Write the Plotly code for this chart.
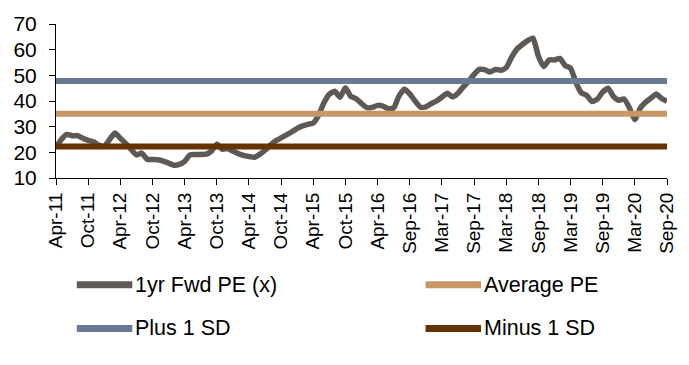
import plotly.graph_objects as go

# ---- data ----
tick_labels = ["Apr-11", "Oct-11", "Apr-12", "Oct-12", "Apr-13", "Oct-13", "Apr-14",
               "Oct-14", "Apr-15", "Oct-15", "Apr-16", "Sep-16", "Mar-17", "Sep-17",
               "Mar-18", "Sep-18", "Mar-19", "Sep-19", "Mar-20", "Sep-20"]

pe_fwd = [22, 25, 27, 26.5, 26.5, 25.5, 24.7, 24.1, 22.8, 22.3,
          25, 27.5, 25.5, 23.5, 21.2, 19, 19.7, 17.3, 17.2, 17.1,
          16.6, 15.8, 15, 15.3, 16.5, 19, 19.2, 19.2, 19.3, 20.5,
          23.2, 21.2, 21.5, 20.5, 19.5, 18.8, 18.4, 18.1, 19.2, 20.8,
          22.8, 24.5, 25.6, 26.8, 28, 29.3, 30.3, 30.9, 31.4, 34.5,
          39.3, 42.6, 43.8, 41.5, 45.2, 41.8, 40.9, 39, 37.4, 37.5,
          38.3, 38, 37, 37.3, 42, 44.6, 42.8, 40, 37.6, 37.7,
          39, 40, 41.5, 43, 41.6, 43, 45.5, 47.7, 50.4, 52.3,
          52.2, 51.3, 52.3, 52, 53, 57, 60.2, 62, 63.5, 64.5,
          57.5, 53.4, 56, 56, 56.6, 53.8, 52.8, 47.3, 43.2, 42.2,
          39.8, 40.7, 43.5, 45, 41.8, 40.3, 40.8, 37.3, 32.8, 37.2,
          39.5, 41.1, 42.7, 41, 39.9]

average_pe = 35.0
plus_1sd = 47.75
minus_1sd = 22.25

series_names = ["1yr Fwd PE (x)", "Average PE", "Plus 1 SD", "Minus 1 SD"]
colors = {"1yr Fwd PE (x)": "#5f5955", "Average PE": "#c99665",
          "Plus 1 SD": "#687a94", "Minus 1 SD": "#663300"}

x = list(range(len(pe_fwd)))
tick_step = 6
tickvals = x[::tick_step]

FONT = "Liberation Sans, Arial, sans-serif"

fig = go.Figure()
fig.add_trace(go.Scatter(x=x, y=pe_fwd, mode="lines", name=series_names[0],
                         line=dict(color=colors[series_names[0]], width=5.5, shape="spline", smoothing=0.5)))
for nm, val in [("Plus 1 SD", plus_1sd), ("Average PE", average_pe), ("Minus 1 SD", minus_1sd)]:
    fig.add_trace(go.Scatter(x=x, y=[val] * len(x), mode="lines", name=nm,
                             line=dict(color=colors[nm], width=6)))

# custom legend (2 columns x 2 rows)
L = 56.0
W = 616.7
def px(v):
    return (v - L) / W
T = 20.0
H = 158.3
def py(v):
    return (T + H - v) / H

legend_items = [("1yr Fwd PE (x)", 77, 288), ("Average PE", 429, 288),
                ("Plus 1 SD", 77, 333), ("Minus 1 SD", 429, 333)]
for nm, lx, ly in legend_items:
    fig.add_shape(type="line", xref="paper", yref="paper",
                  x0=px(lx), x1=px(lx + 56), y0=py(ly), y1=py(ly),
                  line=dict(color=colors[nm], width=7))
    fig.add_annotation(xref="paper", yref="paper", x=px(lx + 57), y=py(ly),
                       text=nm, showarrow=False, xanchor="left", yanchor="middle",
                       font=dict(family=FONT, size=21.5, color="#000000"))

fig.update_layout(
    width=689, height=365,
    margin=dict(l=56, r=16.3, t=20, b=186.7),
    paper_bgcolor="white", plot_bgcolor="white",
    showlegend=False,
    font=dict(family=FONT, size=21, color="#000000"),
)
fig.update_xaxes(range=[0, len(x) - 1], tickmode="array", tickvals=tickvals, ticktext=tick_labels,
                 tickangle=-90, showline=True, linecolor="black", linewidth=1,
                 ticks="outside", ticklen=6, tickcolor="black", showgrid=False, zeroline=False,
                 tickfont=dict(family=FONT, size=19))
fig.update_yaxes(range=[10, 70], dtick=10, tick0=10, showline=True, linecolor="black", linewidth=1,
                 ticks="outside", ticklen=6, tickcolor="black", showgrid=False, zeroline=False,
                 ticklabelstandoff=8,
                 tickfont=dict(family=FONT, size=21))

fig.write_html("out.html")
